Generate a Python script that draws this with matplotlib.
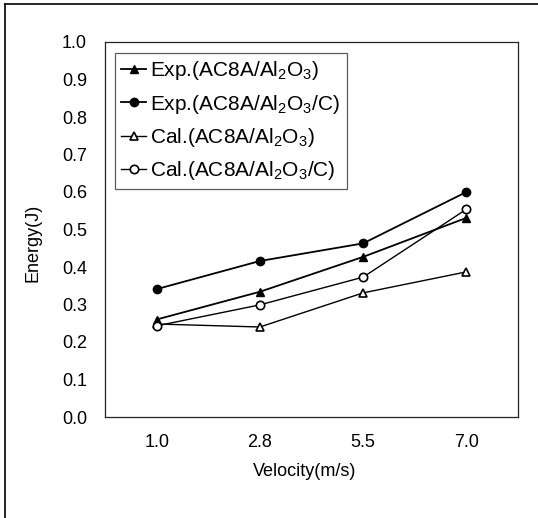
import matplotlib
matplotlib.use("Agg")
import matplotlib.pyplot as plt
from matplotlib.lines import Line2D

plt.rcParams["font.family"] = ["Liberation Sans", "DejaVu Sans"]
plt.rcParams["mathtext.fontset"] = "custom"
plt.rcParams["mathtext.rm"] = "Liberation Sans"

velocity = ["1.0", "2.8", "5.5", "7.0"]
exp_al2o3 = [0.26, 0.334, 0.427, 0.531]
exp_al2o3_c = [0.341, 0.416, 0.463, 0.600]
cal_al2o3 = [0.248, 0.240, 0.331, 0.387]
cal_al2o3_c = [0.243, 0.299, 0.373, 0.554]
y_ticks = [0.0, 0.1, 0.2, 0.3, 0.4, 0.5, 0.6, 0.7, 0.8, 0.9, 1.0]

W, H = 538, 518
fig = plt.figure(figsize=(W / 100, H / 100), dpi=100)
ax = fig.add_axes([105 / W, 1 - 417 / H, 413 / W, 375 / H])

x = range(len(velocity))
ax.plot(x, exp_al2o3, color="black", lw=1.3, marker="^", ms=6, mfc="black",
        label=r"Exp.(AC8A/Al$_2$O$_3$)")
ax.plot(x, exp_al2o3_c, color="black", lw=1.3, marker="o", ms=6, mfc="black",
        label=r"Exp.(AC8A/Al$_2$O$_3$/C)")
ax.plot(x, cal_al2o3, color="black", lw=1.0, marker="^", ms=6, mfc="white", mew=1.2,
        label=r"Cal.(AC8A/Al$_2$O$_3$)")
ax.plot(x, cal_al2o3_c, color="black", lw=1.0, marker="o", ms=6, mfc="white", mew=1.2,
        label=r"Cal.(AC8A/Al$_2$O$_3$/C)")

ax.set_xlim(-0.5, len(velocity) - 0.5)
ax.set_ylim(0, 1.0)
ax.set_xticks(list(x))
ax.set_xticklabels(velocity)
ax.set_yticks(y_ticks)
ax.set_yticklabels([f"{v:.1f}" for v in y_ticks])
ax.tick_params(length=0, labelsize=13, pad=12)
ax.tick_params(axis="y", pad=13)
for s in ax.spines.values():
    s.set_linewidth(0.9)
    s.set_color("#222222")

leg = ax.legend(loc="upper left", bbox_to_anchor=(10 / 413, 1 - 11 / 375), fontsize=15,
                frameon=True, fancybox=False, handlelength=1.2, handletextpad=0.2,
                borderpad=0.3, labelspacing=0.5, borderaxespad=0)
leg.get_frame().set_edgecolor("#333333")
leg.get_frame().set_linewidth(0.9)

fig.text(33 / W, 1 - 243 / H, "Energy(J)", rotation=90, ha="center", va="center", fontsize=13)
fig.text(305 / W, 1 - 471 / H, "Velocity(m/s)", ha="center", va="center", fontsize=13)

# outer frame (top and left edges only)
fig.add_artist(Line2D([5 / W, 5 / W], [0, 1 - 4 / H], transform=fig.transFigure, color="black", lw=1.2))
fig.add_artist(Line2D([5 / W, 1], [1 - 4 / H, 1 - 4 / H], transform=fig.transFigure, color="black", lw=1.2))

fig.savefig("out.png", dpi=100)
